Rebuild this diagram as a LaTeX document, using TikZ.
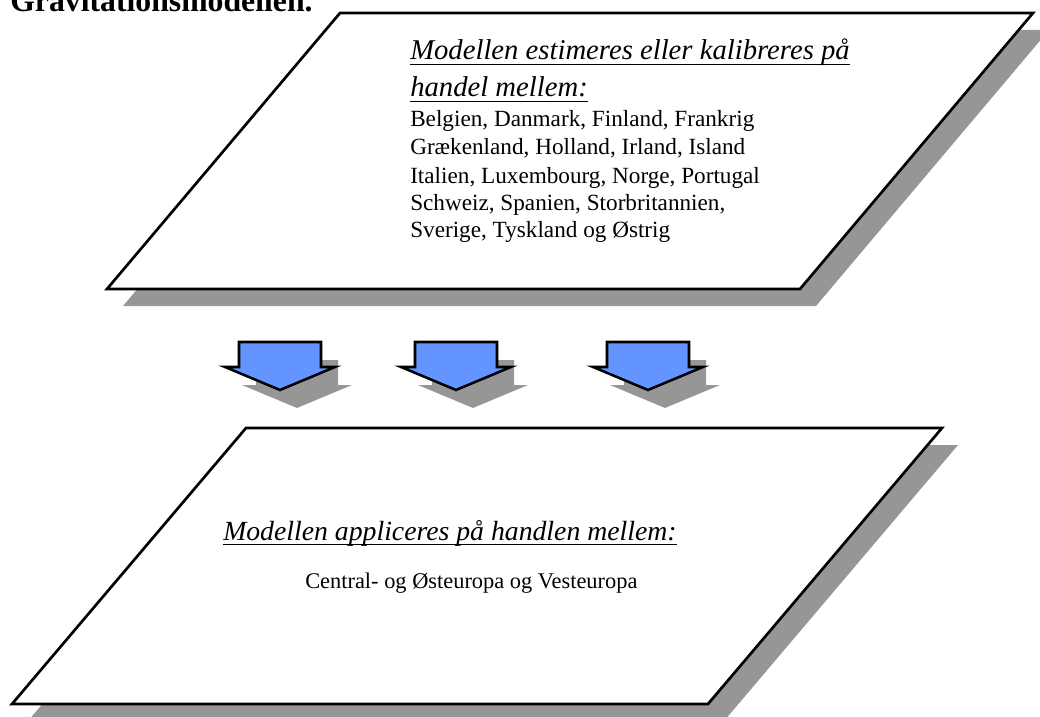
\documentclass[tikz,border=0pt]{standalone}
\usepackage{fontspec}
\setmainfont{Liberation Serif}
\definecolor{shadowgray}{RGB}{150,150,150}
\definecolor{arrowblue}{RGB}{100,148,255}
\tikzset{
  panel/.style={draw=black, line width=2pt, fill=white, line join=miter},
  dropshade/.style={fill=shadowgray, draw=none},
  blockarrow/.style={draw=black, line width=1.9pt, fill=arrowblue, line join=miter},
  heading/.style={inner sep=0pt, anchor=base west, font=\fontsize{#1}{#1}\itshape},
  listtext/.style={inner sep=0pt, anchor=base west, font=\fontsize{#1}{#1}\selectfont},
  ruleline/.style={line width=0.9pt}
}
\begin{document}
\begin{tikzpicture}[x=0.75pt,y=-0.75pt]
\useasboundingbox (0,0) rectangle (1040,717);

% page title, partly cut off at the top edge
\node[inner sep=0pt, anchor=base west, font=\fontsize{23.8pt}{24pt}\bfseries] (title) at (10,12) {Gravitationsmodellen.};

% upper parallelogram with its drop shadow
\path[dropshade] (356,30) -- (1049,30) -- (816,306) -- (123,306) -- cycle;
\path[panel] (340,13) coordinate (uTL) -- (1033,13) coordinate (uTR)
  -- (800,289) coordinate (uBR) -- (107,289) coordinate (uBL) -- cycle;

% lower parallelogram with its drop shadow
\path[dropshade] (262,445) -- (958,445) -- (724,721) -- (28,721) -- cycle;
\path[panel] (246,428) coordinate (lTL) -- (942,428) coordinate (lTR)
  -- (708,704) coordinate (lBR) -- (12,704) coordinate (lBL) -- cycle;

% three block arrows pointing down
\foreach \cx/\nm in {280/a,456/b,648/c}{
  \begin{scope}[shift={(\cx+17,360)}]
    \path[dropshade] (-41,0) -- (41,0) -- (41,25) -- (55,25) -- (0,48) -- (-55,25) -- (-41,25) -- cycle;
  \end{scope}
  \begin{scope}[shift={(\cx,342)}]
    \path[blockarrow] (-41,0) -- (41,0) -- (41,25) -- (55,25) -- (0,48) coordinate (tip\nm) -- (-55,25) -- (-41,25) -- cycle;
  \end{scope}
}

% text of the upper panel
\node[heading=21.5pt] (h1) at (410,60) {Modellen estimeres eller kalibreres på};
\node[heading=21.5pt] (h2) at (410,97) {handel mellem:};
\draw[ruleline] ([yshift=-3.2pt]h1.base west) -- ([yshift=-3.2pt]h1.base east);
\draw[ruleline] ([yshift=-3.2pt]h2.base west) -- ([yshift=-3.2pt]h2.base east);
\node[listtext=17.4pt] (c1) at (410,127) {Belgien, Danmark, Finland, Frankrig};
\node[listtext=17.4pt] (c2) at (410,155) {Grækenland, Holland, Irland, Island};
\node[listtext=17.4pt] (c3) at (410,183) {Italien, Luxembourg, Norge, Portugal};
\node[listtext=17.4pt] (c4) at (410,210) {Schweiz, Spanien, Storbritannien,};
\node[listtext=17.4pt] (c5) at (410,238) {Sverige, Tyskland og Østrig};

% text of the lower panel
\node[heading=20.8pt] (h3) at (223,540) {Modellen appliceres på handlen mellem:};
\draw[ruleline] ([yshift=-3.2pt]h3.base west) -- ([yshift=-3.2pt]h3.base east);
\node[listtext=16.8pt] (regions) at (305,588) {Central- og Østeuropa og Vesteuropa};
\end{tikzpicture}
\end{document}
